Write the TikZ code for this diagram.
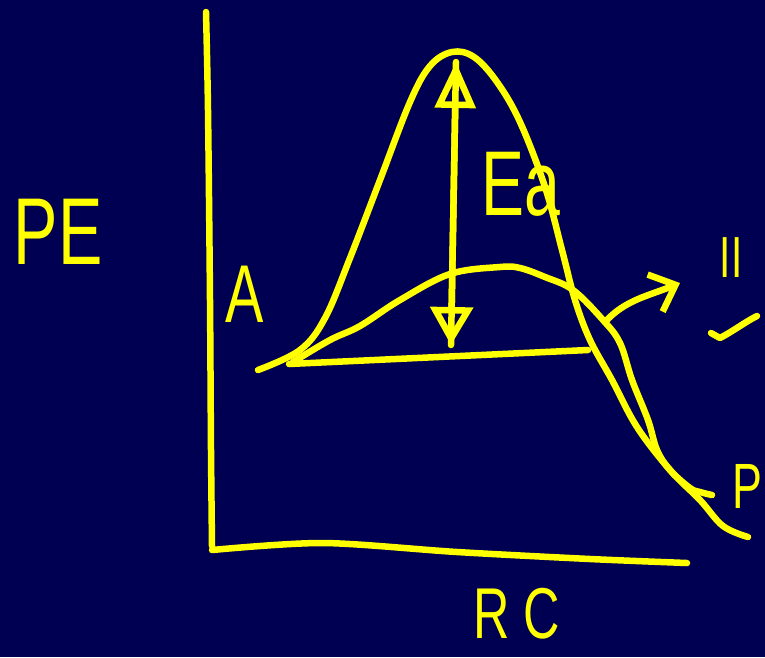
\documentclass[tikz,border=0pt]{standalone}
\usepackage{fontspec}
\setmainfont{Liberation Sans}
\newfontfamily\handfont[FakeStretch=0.7]{Liberation Sans}
\usetikzlibrary{arrows.meta,positioning}
\definecolor{boardbg}{RGB}{0,0,82}
\definecolor{chalk}{RGB}{255,255,0}

\begin{document}
\begin{tikzpicture}[x=1pt, y=-1pt,
  pen/.style={draw=chalk, line width=6.5pt, line cap=round, line join=round},
  hand/.style={text=chalk, inner sep=0pt, font=\handfont\fontsize{#1}{#1}\selectfont},
  hand/.default=70,
  eaarrow/.style={pen, {Triangle[open, length=46pt, width=40pt]}-{Triangle[open, length=38pt, width=42pt]}},
  barb/.style={pen, -{Straight Barb[length=22pt, width=40pt]}}
]

% Board
\fill[boardbg] (0,0) rectangle (765,657);
\useasboundingbox (0,0) rectangle (765,657);

% Axes
\draw[pen] plot[smooth] coordinates {(206,12) (208,110) (210,300) (211,450) (212,546)};
\draw[pen] plot[smooth] coordinates {(212,550) (323,543) (457,552) (590,559) (687,563)};

% Axis labels
\node[hand=95] (pe) at (58,232) {PE};
\node[hand=72] (rc) at (517,614) {R C};

% Uncatalysed path
\draw[pen] plot[smooth, tension=0.6] coordinates {(258,370) (300,350) (325,318) (350,258) (380,180) (410,102) (430,66) (452,52) (474,57) (497,82) (520,122) (545,187) (562,250) (575,300) (590,340) (612,380) (637,427) (670,470) (700,500) (723,526) (748,537)};

% Catalysed path
\draw[pen] plot[smooth, tension=0.6] coordinates {(293,362) (330,340) (360,326) (400,300) (450,274) (500,267) (520,268) (545,277) (573,290) (603,320) (620,343) (632,380) (648,420) (657,450) (670,470) (690,488) (700,492) (712,495)};

% Reactant / product
\node[hand=82] (react) at (245,294) {A};
\node[hand=64, anchor=east] (prod) at (763,486) {P};

% Activation energy
\coordinate (peak) at (456,62);
\coordinate (base) at (451,345);
\coordinate (baseR) at (588,350);
\coordinate (baseL) at (289,364);
\draw[pen] (peak) -- (base);
\draw[eaarrow] (peak) -- (base);
\draw[pen] (baseR) -- (baseL);
\node[hand=92] (ea) at (521,184) {Ea};

% Intermediate
\node[hand=58] (inter) at (731,258) {II};
\coordinate (kink) at (605,322);
\draw[barb] (kink) .. controls (625,300) and (648,296) .. (680,283);
\draw[pen] (711,333) -- (720,338) .. controls (735,330) and (745,322) .. (757,316);

\end{tikzpicture}
\end{document}
